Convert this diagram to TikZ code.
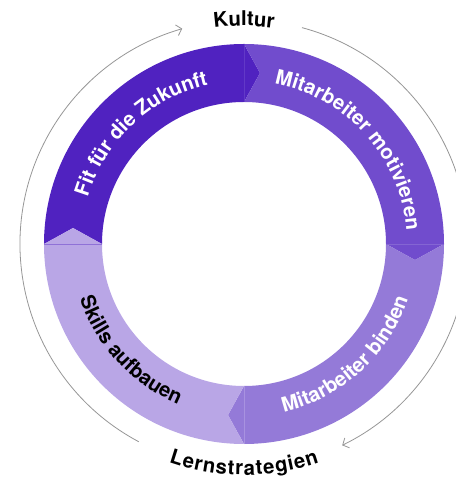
\documentclass[tikz,border=0pt]{standalone}
\usepackage{fontspec}
\setmainfont{TeX Gyre Heros}
\usetikzlibrary{decorations.text,arrows.meta,calc}
\definecolor{cTL}{RGB}{80,34,192}
\definecolor{cTR}{RGB}{113,76,205}
\definecolor{cBR}{RGB}{148,122,216}
\definecolor{cBL}{RGB}{185,166,230}
\definecolor{arcgray}{RGB}{150,150,150}
\newcommand\lbl{\fontsize{20.3pt}{24pt}\selectfont\bfseries}
\tikzset{
  cyclearc/.style={draw=arcgray, line width=0.8pt, -{Straight Barb[length=5pt,width=11pt]}},
  seam/.style={line width=0.6pt},
  curvedtext/.style={decorate, decoration={text along path, text align=center, text color=#1}},
}
\begin{document}
\begin{tikzpicture}
\useasboundingbox (-244pt,-234pt) rectangle (211pt,244pt);
% ring segments (clockwise), each with chevron tip at its end
\foreach \a/\c in {180/cTL, 90/cTR, 0/cBR, -90/cBL}{
  \pgfmathsetmacro\e{\a-90}
  \pgfmathsetmacro\ee{\a-180}
  \fill[\c] (\a:200pt) arc[start angle=\a, end angle=\e, radius=200pt]
    -- ($(\e:171pt)+(\ee:16pt)$) -- (\e:142pt)
    arc[start angle=\e, end angle=\a, radius=142pt]
    -- ($(\a:171pt)+(\e:16pt)$) -- cycle;
}
% seams
\draw[seam, cTR!55!cTL] (90:142pt) -- (90:200pt);
\draw[seam, cBR!55!cTR] (0:142pt) -- (0:200pt);
\draw[seam, cBL!55!cBR] (-90:142pt) -- (-90:200pt);
\draw[seam, cTL!40!cBL] (180:142pt) -- (180:200pt);
% outer cycle arrows
\draw[cyclearc] (242:224pt) arc[start angle=242, end angle=106, radius=224pt];
\draw[cyclearc] (75:224pt) arc[start angle=75, end angle=-64, radius=224pt];
% ring labels
\path[curvedtext=white, decoration={text={|\lbl|Fit für die Zukunft}}]
  (178:163pt) arc[start angle=178, end angle=88, radius=163pt];
\path[curvedtext=white, decoration={text={|\lbl|Mitarbeiter motivieren}}]
  (87:163pt) arc[start angle=87, end angle=-3, radius=163pt];
\path[curvedtext=white, decoration={text={|\lbl|Mitarbeiter binden}}]
  (-92.6:173pt) arc[start angle=-92.6, end angle=-2.6, radius=173pt];
\path[curvedtext=black, decoration={text={|\lbl|Skills aufbauen}}]
  (-182:173pt) arc[start angle=-182, end angle=-92, radius=173pt];
% outer labels
\path[curvedtext=black, decoration={text={|\lbl|Kultur}}]
  (110:218pt) arc[start angle=110, end angle=70, radius=218pt];
\path[decorate, decoration={text along path, text align=fit to path, text color=black, text={|\lbl|Lernstrategien}}]
  (-109:231pt) arc[start angle=-109, end angle=-71, radius=231pt];
\end{tikzpicture}
\end{document}
